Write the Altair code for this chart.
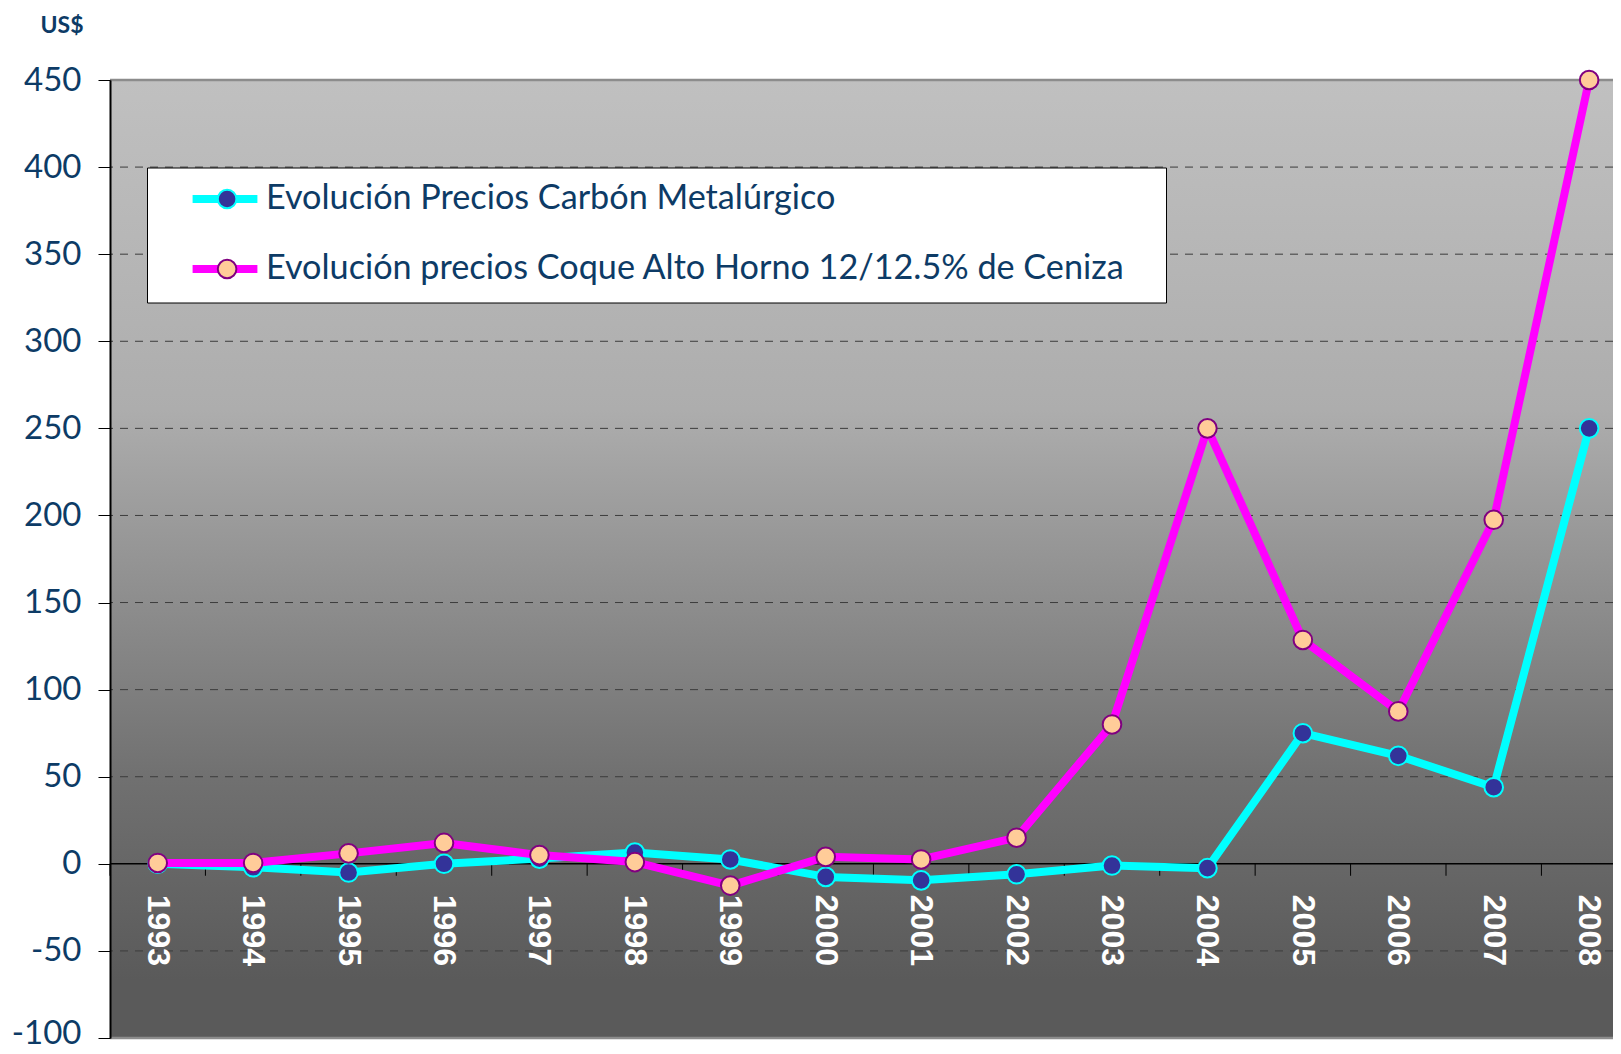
import altair as alt
import pandas as pd

# ---- data ----
years = list(range(1993, 2009))
carbon = [0, -2, -5, 0, 3, 6.5, 2.5, -7.5, -9.5, -6, -1, -2.5, 75, 62, 44, 250]
coque = [0.5, 0.5, 6, 12, 5, 1, -12.5, 4, 2.5, 15, 80, 250, 128.5, 87.5, 197.5, 450]
series_names = [
    "Evolución Precios Carbón Metalúrgico",
    "Evolución precios Coque Alto Horno 12/12.5% de Ceniza",
]
y_ticks = list(range(-100, 451, 50))
x_domain = [1992.5, 2008.25]
y_domain = [-100, 450]

rows = []
for i, yr in enumerate(years):
    rows.append({"year": yr, "serie": series_names[0], "serie2": series_names[0], "value": carbon[i]})
for i, yr in enumerate(years):
    rows.append({"year": yr, "serie": series_names[1], "serie2": series_names[1], "value": coque[i]})
df = pd.DataFrame(rows)
years_df = pd.DataFrame({"year": years, "label": [str(y) for y in years]})
bg_df = pd.DataFrame({"x0": [x_domain[0]], "x1": [x_domain[1]], "y0": [y_domain[0]], "y1": [y_domain[1]]})
grid_df = pd.DataFrame({"v": y_ticks})
bound_df = pd.DataFrame({"b": [y - 0.5 for y in years]})

W, H = 1503, 958
NAVY = "#0D3B66"
FONT = "Lato"

xscale = alt.Scale(domain=x_domain, nice=False, zero=False)
yscale = alt.Scale(domain=y_domain, nice=False, zero=False)

# identical axis definitions are used in every layer so that they merge
y_axis = alt.Axis(
    orient="left", values=y_ticks, title="US$", titleAngle=0, titleAlign="left",
    titleX=-70, titleY=-48, titleBaseline="alphabetic",
    titleFont=FONT, titleFontSize=23, titleFontWeight="bold", titleColor=NAVY,
    labelFont=FONT, labelFontSize=33, labelColor=NAVY, labelPadding=17,
    labelExpr="'' + datum.value",
    labelOffset={"condition": {"test": "datum.value == -100", "value": -5}, "value": 0},
    tickSize=12, tickColor="black", tickWidth=1,
    domainColor="black", domainWidth=2,
    grid=False, zindex=1,
)
x_axis = alt.Axis(
    orient="bottom", labels=False, ticks=False, domain=False, grid=False, title=None,
)


def X(field):
    return alt.X(field, scale=xscale, axis=x_axis)


def Y(field):
    return alt.Y(field, scale=yscale, axis=y_axis)


bg = alt.Chart(bg_df).mark_rect(
    fill=alt.Gradient(
        gradient="linear", x1=0, x2=0, y1=0, y2=1,
        stops=[
            alt.GradientStop(offset=0, color="#C0C0C0"),
            alt.GradientStop(offset=0.344, color="#ADADAD"),
            alt.GradientStop(offset=0.73, color="#707070"),
            alt.GradientStop(offset=0.94, color="#5A5A5A"),
            alt.GradientStop(offset=1, color="#5A5A5A"),
        ],
    )
).encode(x=X("x0:Q"), x2="x1", y=Y("y0:Q"), y2="y1")

grid_dashed = alt.Chart(grid_df).transform_filter(
    "datum.v != 0 && datum.v != 450 && datum.v != -100"
).mark_rule(color="#3c3c3c", strokeWidth=1, strokeDash=[8, 7]).encode(y=Y("v:Q"))
grid_border = alt.Chart(grid_df).transform_filter(
    "datum.v == 450 || datum.v == -100"
).mark_rule(color="#8c8c8c", strokeWidth=2.5).encode(y=Y("v:Q"))
zero_line = alt.Chart(grid_df).transform_filter("datum.v == 0").mark_rule(
    color="black", strokeWidth=1.5
).encode(y=Y("v:Q"))

x_ticks = alt.Chart(bound_df).mark_tick(
    orient="vertical", size=12, thickness=1, color="black", yOffset=6, opacity=1
).encode(
    x=X("b:Q"),
    y=alt.YDatum(0, scale=yscale, axis=y_axis),
)

labels = alt.Chart(years_df).mark_text(
    angle=90, align="left", baseline="middle", dx=31,
    font="Liberation Sans", fontSize=32, fontWeight="bold", color="white",
).encode(
    x=X("year:Q"),
    y=alt.YDatum(0, scale=yscale, axis=y_axis),
    text="label:N",
)

LEG_X, LEG_Y = 37, 87.5
L1 = alt.Legend(
    title=None, orient="none", legendX=LEG_X, legendY=LEG_Y, padding=16,
    fillColor="white", strokeColor="black",
    symbolType="stroke", symbolSize=4200, symbolStrokeWidth=8,
    symbolOffset=25.5, labelOffset=4.5, clipHeight=31,
    labelFont=FONT, labelFontSize=34.2, labelColor=NAVY, labelLimit=2000,
    labelExpr="datum.label + '\u2800'",
    rowPadding=35, zindex=1,
)
L2 = alt.Legend(
    title=None, orient="none", legendX=LEG_X, legendY=LEG_Y, padding=16,
    symbolType="circle", symbolSize=346, symbolStrokeWidth=2,
    symbolOffset=47, labelOffset=4, clipHeight=31,
    labelFont=FONT, labelFontSize=34.2, labelExpr="''", labelLimit=2000,
    rowPadding=35, zindex=2,
)

stroke_scale = alt.Scale(domain=series_names, range=["#00FFFF", "#FF00FF"])
ring_scale = alt.Scale(range=["#00FFFF", "#800080"])
fill_scale = alt.Scale(range=["#333399", "#FFCC99"])


def line_layer(name):
    return alt.Chart(df).transform_filter(alt.datum.serie == name).mark_line(
        strokeWidth=8, strokeJoin="round", strokeCap="round"
    ).encode(
        x=X("year:Q"),
        y=Y("value:Q"),
        stroke=alt.Stroke("serie:N", scale=stroke_scale, legend=L1),
    )


def point_layer(name):
    return alt.Chart(df).transform_filter(alt.datum.serie2 == name).mark_point(
        filled=False, shape="circle", size=346, strokeWidth=2, opacity=1, fillOpacity=1
    ).encode(
        x=X("year:Q"),
        y=Y("value:Q"),
        color=alt.Color("serie2:N", scale=ring_scale, legend=L2),
        fill=alt.Fill("serie2:N", scale=fill_scale, legend=L2),
    )


chart = alt.layer(
    bg, grid_dashed, grid_border, zero_line, x_ticks, labels,
    line_layer(series_names[0]), point_layer(series_names[0]),
    line_layer(series_names[1]), point_layer(series_names[1]),
).properties(
    width=W, height=H,
    autosize=alt.AutoSizeParams(type="none"),
    padding={"left": 102, "top": 72, "right": 0, "bottom": 8},
).configure_view(strokeWidth=0)

chart.save("out.html", embed_options={"renderer": "svg", "actions": False})
